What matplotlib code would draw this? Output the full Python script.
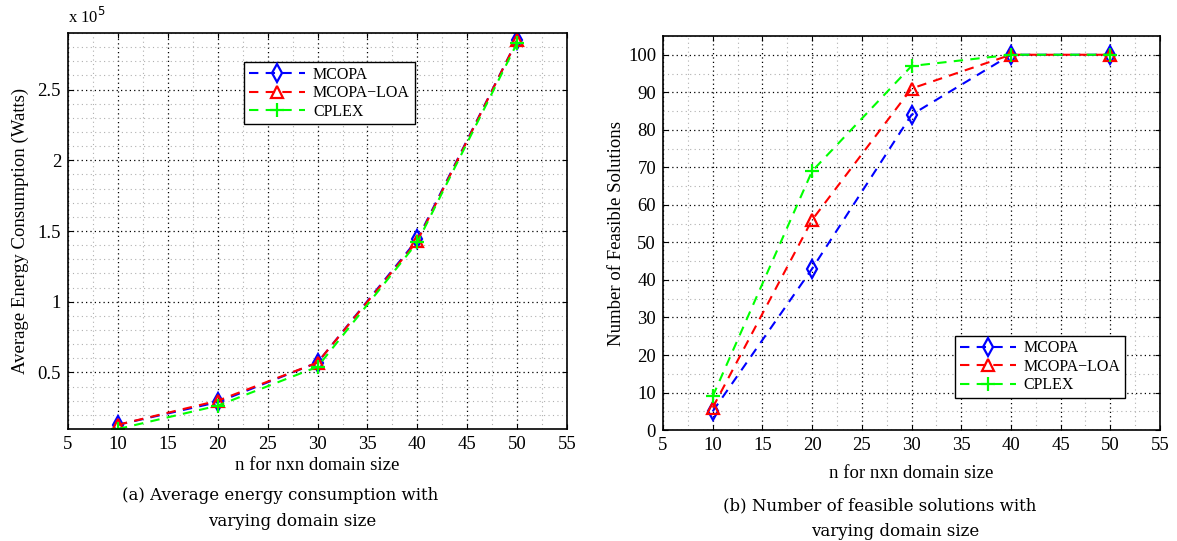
import matplotlib.pyplot as plt
from matplotlib.ticker import MultipleLocator

# domain sizes
n_sizes = [10, 20, 30, 40, 50]

# (a) average energy consumption, in units of 1e5 Watts
energy_mcopa = [0.13, 0.29, 0.57, 1.44, 2.85]
energy_loa = [0.13, 0.30, 0.57, 1.43, 2.85]
energy_cplex = [0.10, 0.265, 0.54, 1.42, 2.83]

# (b) number of feasible solutions
feas_mcopa = [5, 43, 84, 100, 100]
feas_loa = [6, 56, 91, 100, 100]
feas_cplex = [9, 69, 97, 100, 100]

labels = ['MCOPA', 'MCOPA\u2212LOA', 'CPLEX']

plt.rcParams['font.family'] = 'Liberation Serif'
plt.rcParams['font.size'] = 13.5

fig = plt.figure(figsize=(11.77, 5.41), dpi=100)
ax1 = fig.add_axes([0.0578, 0.207, 0.424, 0.732])
ax2 = fig.add_axes([0.5633, 0.205, 0.4223, 0.7285])


def draw(ax, ys):
    styles = [('b', 'd', 9), ('r', '^', 8), ((0, 1, 0), '+', 10)]
    for y, lab, (col, mk, ms) in zip(ys, labels, styles):
        ax.plot(n_sizes, y, linestyle=(0, (4.5, 3.5)), color=col, lw=1.5,
                marker=mk, markersize=ms, markerfacecolor='none',
                markeredgecolor=col, markeredgewidth=1.6, label=lab)


def style(ax, pad):
    ax.set_xlim(5, 55)
    ax.xaxis.set_major_locator(MultipleLocator(5))
    ax.xaxis.set_minor_locator(MultipleLocator(2.5))
    ax.grid(which='major', linestyle=(0, (1, 2.5)), color='black', lw=0.9)
    ax.grid(which='minor', linestyle=(0, (1, 3)), color='#b0b0b0', lw=0.8)
    ax.tick_params(which='both', direction='in', top=True, right=True, pad=5)
    ax.tick_params(which='minor', length=0)
    for sp in ax.spines.values():
        sp.set_linewidth(1.2)
    ax.set_xlabel('n for nxn domain size', labelpad=pad)


def legend(ax, **kw):
    leg = ax.legend(fancybox=False, edgecolor='black', framealpha=1,
                    handlelength=3.5, borderpad=0.3, labelspacing=0.15,
                    handletextpad=0.5, fontsize=11.5, **kw)
    leg.get_frame().set_linewidth(1.0)


draw(ax1, [energy_mcopa, energy_loa, energy_cplex])
style(ax1, 3)
ax1.set_ylim(0.1, 2.9)
ax1.set_yticks([0.5, 1, 1.5, 2, 2.5])
ax1.set_yticklabels(['0.5', '1', '1.5', '2', '2.5'])
ax1.yaxis.set_minor_locator(MultipleLocator(0.1))
ax1.set_ylabel('Average Energy Consumption (Watts)', labelpad=6)
ax1.text(0, 1.025, r'x 10$^5$', transform=ax1.transAxes, fontsize=12)
legend(ax1, loc='upper left', bbox_to_anchor=(0.337, 0.947))

draw(ax2, [feas_mcopa, feas_loa, feas_cplex])
style(ax2, 8)
ax2.set_ylim(0, 105)
ax2.yaxis.set_major_locator(MultipleLocator(10))
ax2.yaxis.set_minor_locator(MultipleLocator(5))
ax2.set_ylabel('Number of Feasible Solutions', labelpad=2)
legend(ax2, loc='lower right', bbox_to_anchor=(0.946, 0.061))

cap = dict(family='DejaVu Serif', fontsize=12, ha='center', va='center')
fig.text(280 / 1177, 1 - 496 / 541, '(a) Average energy consumption with', **cap)
fig.text(292 / 1177, 1 - 522 / 541, 'varying domain size', **cap)
fig.text(880 / 1177, 1 - 506 / 541, '(b) Number of feasible solutions with', **cap)
fig.text(895 / 1177, 1 - 531 / 541, 'varying domain size', **cap)

fig.savefig('out.png', dpi=100)
